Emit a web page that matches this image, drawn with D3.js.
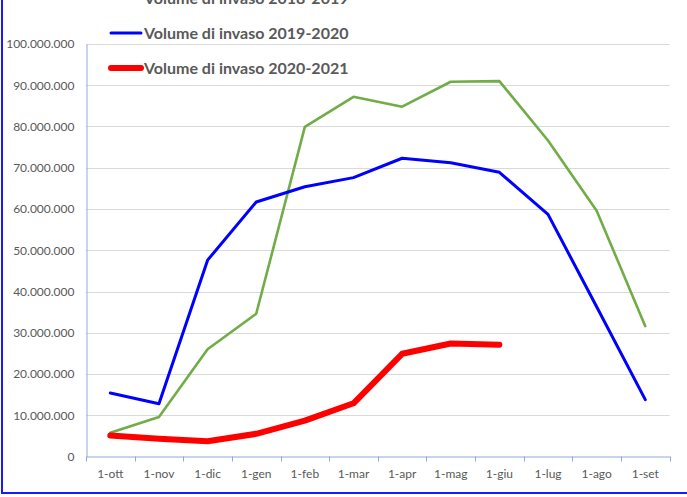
<!DOCTYPE html>
<html>
<head>
<meta charset="utf-8">
<script src="https://cdn.jsdelivr.net/npm/d3@7"></script>
<style>
  body { margin: 0; background: #fff; }
  text { font-family: Lato, "Open Sans", sans-serif; }
  .tick text { fill: #595959; font-size: 12px; }
</style>
</head>
<body>
<div id="chart"></div>
<script>
// months (1st of each month, hydrological year)
var months = ["1-ott", "1-nov", "1-dic", "1-gen", "1-feb", "1-mar", "1-apr", "1-mag", "1-giu", "1-lug", "1-ago", "1-set"];

var seriesNames = ["Volume di invaso 2018-2019", "Volume di invaso 2019-2020", "Volume di invaso 2020-2021"];

var vol1819 = [5750000, 9550000, 26000000, 34600000, 79900000, 87200000, 84800000, 90850000, 91000000, 76600000, 59600000, 31600000];
var vol1920 = [15400000, 12800000, 47600000, 61700000, 65400000, 67600000, 72300000, 71200000, 68900000, 58700000, 36300000, 13800000];
var vol2021 = [5100000, 4300000, 3700000, 5500000, 8700000, 12900000, 24900000, 27400000, 27100000];

var yTicks = [0, 10000000, 20000000, 30000000, 40000000, 50000000, 60000000, 70000000, 80000000, 90000000, 100000000];

var W = 687, H = 497;

var svg = d3.select("#chart").append("svg")
  .attr("width", W)
  .attr("height", H);

var x = d3.scaleBand()
  .domain(months)
  .range([86, 669.6]);

var y = d3.scaleLinear()
  .domain([0, 100000000])
  .range([456.5, 44]);

var it = d3.formatLocale({ decimal: ",", thousands: ".", grouping: [3], currency: ["", "€"] });
var fmt = it.format(",d");

// gridlines
svg.append("g")
  .selectAll("line")
  .data(yTicks.slice(1))
  .enter().append("line")
  .attr("x1", 86).attr("x2", 669.6)
  .attr("y1", function (d) { return Math.round(y(d)) + 0.5; })
  .attr("y2", function (d) { return Math.round(y(d)) + 0.5; })
  .attr("stroke", "#d9d9d9")
  .attr("stroke-width", 1);

// y axis
var yAxis = svg.append("g")
  .attr("transform", "translate(86.5,0)")
  .call(d3.axisLeft(y).tickValues(yTicks).tickFormat(fmt).tickSize(0).tickPadding(12));
yAxis.select(".domain").attr("stroke", "#8eaadb");

// x axis
var xAxis = svg.append("g")
  .attr("transform", "translate(0,456.5)")
  .call(d3.axisBottom(x).tickSize(0).tickPadding(11));
xAxis.select(".domain").attr("stroke", "#8eaadb");
xAxis.selectAll(".tick text").attr("dy", "0.9em");

// tick marks at band edges
var edges = months.map(function (m) { return x(m); }).concat([x.range()[1]]);
xAxis.selectAll(".edge")
  .data(edges)
  .enter().append("line")
  .attr("class", "edge")
  .attr("x1", function (d) { return Math.round(d) + 0.5; })
  .attr("x2", function (d) { return Math.round(d) + 0.5; })
  .attr("y1", 0).attr("y2", 5)
  .attr("stroke", "#8eaadb");

var line = d3.line()
  .x(function (d, i) { return x(months[i]) + x.bandwidth() / 2; })
  .y(function (d) { return y(d); });

var series = [
  { name: seriesNames[0], values: vol1819, color: "#70ad47", width: 2.6 },
  { name: seriesNames[1], values: vol1920, color: "#0000ff", width: 3 },
  { name: seriesNames[2], values: vol2021, color: "#ff0000", width: 6 }
];

svg.selectAll(".serie")
  .data(series)
  .enter().append("path")
  .attr("class", "serie")
  .attr("d", function (d) { return line(d.values); })
  .attr("fill", "none")
  .attr("stroke", function (d) { return d.color; })
  .attr("stroke-width", function (d) { return d.width; })
  .attr("stroke-linejoin", "round")
  .attr("stroke-linecap", "round");

// legend (first entry is cut by the top edge)
var legend = svg.selectAll(".legend")
  .data(series)
  .enter().append("g")
  .attr("class", "legend")
  .attr("transform", function (d, i) { return "translate(0," + (-2 + i * 35) + ")"; });

legend.append("line")
  .attr("x1", 111).attr("x2", 141)
  .attr("y1", 0).attr("y2", 0)
  .attr("stroke", function (d) { return d.color; })
  .attr("stroke-width", function (d) { return d.width; })
  .attr("stroke-linecap", "round");

legend.append("text")
  .attr("x", 144)
  .attr("y", 0)
  .attr("dy", "0.35em")
  .attr("fill", "#595959")
  .style("font-size", "16px")
  .style("font-weight", "bold")
  .text(function (d) { return d.name; });

// outer frame
svg.append("rect")
  .attr("x", 2).attr("y", -10)
  .attr("width", 720).attr("height", 503)
  .attr("fill", "none")
  .attr("stroke", "#1a1aff")
  .attr("stroke-width", 2);
</script>
</body>
</html>
